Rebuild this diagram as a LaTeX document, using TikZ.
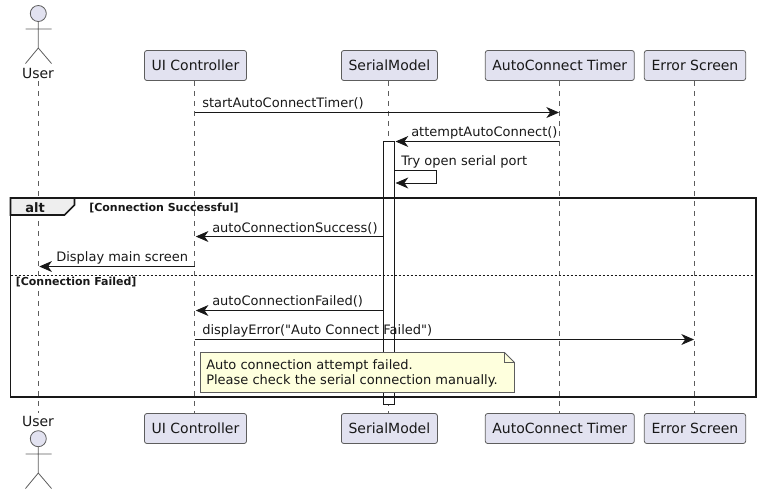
\documentclass[tikz,border=0pt]{standalone}
\usepackage{fontspec}
\setmainfont[Ligatures=TeXOff]{DejaVu Sans}
\usetikzlibrary{arrows.meta}
\definecolor{ink}{HTML}{181818}
\definecolor{partfill}{HTML}{E2E2F0}
\definecolor{notefill}{HTML}{FEFFDD}
\definecolor{tabfill}{HTML}{EEEEEE}
\tikzset{
  part/.style={draw=ink!70,line width=0.6pt,fill=partfill,rounded corners=1.8pt,inner sep=0pt,minimum height=22.5pt,font=\fontsize{10.5}{12}\selectfont,text=ink},
  actorline/.style={draw=ink!70,line width=0.6pt},
  actorhead/.style={draw=ink!70,line width=0.6pt,fill=partfill,circle,inner sep=0pt,minimum size=12pt},
  actorname/.style={inner sep=0pt,font=\fontsize{10.5}{12}\selectfont,text=ink},
  life/.style={draw=ink!70,line width=0.45pt,dash pattern=on 3.75pt off 3.75pt},
  msg/.style={draw=ink,line width=0.6pt,-{Stealth[length=9.5pt,width=8.2pt,inset=2.9pt,color=ink]},shorten >=0.2pt},
  lbl/.style={anchor=base west,inner sep=0pt,font=\fontsize{9.75}{12}\selectfont,text=ink},
  grp/.style={anchor=base west,inner sep=0pt,font=\bfseries\fontsize{8.25}{10}\selectfont,text=ink},
  activ/.style={draw=ink,line width=0.6pt,fill=white},
  frameline/.style={draw=ink,line width=1.2pt},
}
\begin{document}
\begin{tikzpicture}[x=0.75pt,y=-0.75pt]
\useasboundingbox (0,0) rectangle (761,494);
% lifeline heads
\node[part,minimum width=76.5pt] (uiT) at (195.5,65.5) {UI Controller};
\node[part,minimum width=72pt] (smT) at (389.4,65.5) {SerialModel};
\node[part,minimum width=111.75pt] (acT) at (559.8,65.5) {AutoConnect Timer};
\node[part,minimum width=76pt] (esT) at (695,65.5) {Error Screen};
\node[part,minimum width=76.5pt] (uiB) at (195.5,428.5) {UI Controller};
\node[part,minimum width=72pt] (smB) at (389.4,428.5) {SerialModel};
\node[part,minimum width=111.75pt] (acB) at (559.8,428.5) {AutoConnect Timer};
\node[part,minimum width=76pt] (esB) at (695,428.5) {Error Screen};
% actors
\node[actorhead] (uhT) at (38.3,13.5) {};
\node[actorhead] (uhB) at (38.3,438.7) {};
\coordinate (ubT) at (38.3,48);
\coordinate (ubB) at (38.3,473);
\draw[actorline] (uhT) -- (ubT) -- (25.5,63.5) (ubT) -- (51.5,63.5) (25.5,29) -- (51.5,29);
\draw[actorline] (uhB) -- (ubB) -- (25.5,488.5) (ubB) -- (51.5,488.5) (25.5,454) -- (51.5,454);
\node[actorname] (uT) at (38,73) {User};
\node[actorname] (uB) at (38,421) {User};
% lifelines
\coordinate (l1a) at (38.3,81);
\coordinate (l1b) at (38.3,413);
\coordinate (l2a) at (194.5,81);
\coordinate (l2b) at (194.5,413);
\coordinate (l3a) at (388.3,81);
\coordinate (l3b) at (388.3,413);
\coordinate (l4a) at (559.3,81);
\coordinate (l4b) at (559.3,413);
\coordinate (l5a) at (694.3,81);
\coordinate (l5b) at (694.3,413);
\draw[life] (l1a) -- (l1b);
\draw[life] (l2a) -- (l2b);
\draw[life] (l3a) -- (l3b);
\draw[life] (l4a) -- (l4b);
\draw[life] (l5a) -- (l5b);
% activation
\draw[activ] (383.7,141.5) rectangle (394.3,404.5);
% messages
\coordinate (m1a) at (194.5,112.5); \coordinate (m1b) at (559.3,112.5);
\draw[msg] (m1a) -- (m1b);
\node[lbl] (t1) at (202,107) {startAutoConnectTimer()};
\coordinate (m2a) at (559.3,141.5); \coordinate (m2b) at (395.3,141.5);
\draw[msg] (m2a) -- (m2b);
\node[lbl] (t2) at (411,136) {attemptAutoConnect()};
\coordinate (m3a) at (394.3,170.5); \coordinate (m3b) at (395.3,183);
\draw[msg] (m3a) -- (436.5,170.5) -- (436.5,183) -- (m3b);
\node[lbl] (t3) at (401,165.5) {Try open serial port};
% frame
\draw[frameline,fill=tabfill] (10.5,215) -- (64.5,215) -- (74.5,205) -- (74.5,198) -- (10.5,198) -- cycle;
\draw[frameline] (10.5,198) rectangle (755.7,396.8);
\draw[draw=ink,line width=0.6pt,dash pattern=on 1.5pt off 1.5pt] (10.5,275.3) -- (755.7,275.3);
\node[anchor=base west,inner sep=0pt,font=\bfseries\fontsize{9.75}{12}\selectfont,text=ink] (alt) at (25,212) {alt};
\node[grp] (g1) at (89,211) {[Connection Successful]};
\node[grp] (g2) at (15.5,285) {[Connection Failed]};
% messages inside
\coordinate (m4a) at (383.7,236.5); \coordinate (m4b) at (195.5,236.5);
\draw[msg] (m4a) -- (m4b);
\node[lbl] (t4) at (212,232) {autoConnectionSuccess()};
\coordinate (m5a) at (194.5,266.5); \coordinate (m5b) at (39,266.5);
\draw[msg] (m5a) -- (m5b);
\node[lbl] (t5) at (56,261) {Display main screen};
\coordinate (m6a) at (383.7,310.5); \coordinate (m6b) at (195.5,310.5);
\draw[msg] (m6a) -- (m6b);
\node[lbl] (t6) at (212,305) {autoConnectionFailed()};
\coordinate (m7a) at (194.5,339.5); \coordinate (m7b) at (694.3,339.5);
\draw[msg] (m7a) -- (m7b);
\node[lbl] (t7) at (202,334) {displayError("Auto Connect Failed")};
% note
\draw[draw=ink!70,line width=0.6pt,fill=notefill] (200.5,352.5) -- (504.5,352.5) -- (514.5,362.5) -- (514.5,392.5) -- (200.5,392.5) -- cycle;
\draw[draw=ink!70,line width=0.6pt] (504.5,352.5) -- (504.5,362.5) -- (514.5,362.5);
\node[lbl] (n1) at (206,369) {Auto connection attempt failed.};
\node[lbl] (n2) at (206,384) {Please check the serial connection manually.};
\end{tikzpicture}
\end{document}
